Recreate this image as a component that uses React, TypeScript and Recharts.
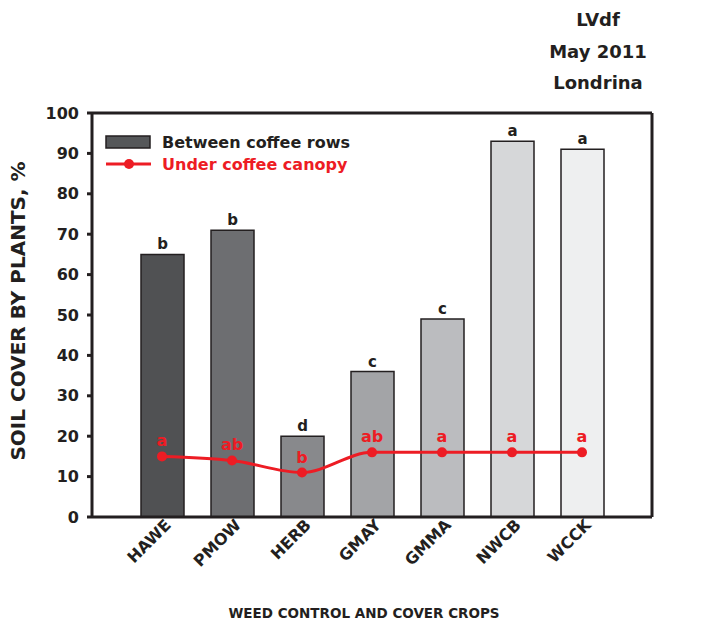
import React from "react";
import {
  ComposedChart,
  Bar,
  Line,
  XAxis,
  YAxis,
  Cell,
  LabelList,
  ReferenceLine,
} from "recharts";

const categories = ["HAWE", "PMOW", "HERB", "GMAY", "GMMA", "NWCB", "WCCK"];
const betweenRows = [65, 71, 20, 36, 49, 93, 91];
const underCanopy = [15, 14, 11, 16, 16, 16, 16];
const barLetters = ["b", "b", "d", "c", "c", "a", "a"];
const lineLetters = ["a", "ab", "b", "ab", "a", "a", "a"];
const barColors = ["#505153", "#6d6e71", "#88898c", "#a3a4a7", "#bbbcbf", "#d6d7d9", "#eeeff0"];
const yTicks = [0, 10, 20, 30, 40, 50, 60, 70, 80, 90, 100];

const data = categories.map((name, i) => ({
  name,
  between: betweenRows[i],
  under: underCanopy[i],
  barLetter: barLetters[i],
  lineLetter: lineLetters[i],
}));

const FONT = "'DejaVu Sans', sans-serif";
const INK = "#231f20";
const RED = "#ed1c24";

// rotated category labels, baseline end sits just right of the tick
const XTick = (props: any) => {
  const { x, y, payload } = props;
  const ax = x + 10;
  const ay = y + 1;
  return (
    <text
      x={ax}
      y={ay}
      transform={`rotate(-45, ${ax}, ${ay})`}
      textAnchor="end"
      fontFamily={FONT}
      fontWeight="bold"
      fontSize={16}
      fill={INK}
    >
      {payload.value}
    </text>
  );
};

const tickStyle = { fontFamily: FONT, fontWeight: "bold", fontSize: 16, fill: INK };

export default function App() {
  return (
    <div style={{ position: "absolute", left: 0, top: 0, width: 701, height: 626, background: "#fff" }}>
      <ComposedChart
        width={701}
        height={626}
        data={data}
        margin={{ top: 113, right: 0, bottom: 49, left: 32 }}
      >
        <XAxis
          dataKey="name"
          padding={{ left: 35, right: 35 }}
          tick={<XTick />}
          tickLine={false}
          axisLine={{ stroke: INK, strokeWidth: 3 }}
          height={60}
          interval={0}
        />
        <YAxis
          yAxisId="left"
          domain={[0, 100]}
          ticks={yTicks}
          width={60}
          tickSize={5}
          tickMargin={8}
          axisLine={{ stroke: INK, strokeWidth: 3 }}
          tickLine={{ stroke: INK, strokeWidth: 3 }}
          tick={tickStyle}
        />
        <YAxis
          yAxisId="right"
          orientation="right"
          domain={[0, 100]}
          ticks={yTicks}
          width={49}
          tickSize={5}
          tickMargin={7}
          axisLine={{ stroke: INK, strokeWidth: 3 }}
          tickLine={{ stroke: INK, strokeWidth: 3 }}
          tick={tickStyle}
        />
        <ReferenceLine yAxisId="left" y={100} stroke={INK} strokeWidth={3} />
        <Bar
          yAxisId="left"
          dataKey="between"
          barSize={43}
          stroke={INK}
          strokeWidth={1.5}
          isAnimationActive={false}
        >
          {data.map((d, i) => (
            <Cell key={d.name} fill={barColors[i]} />
          ))}
          <LabelList
            dataKey="barLetter"
            position="top"
            offset={5}
            style={{ fontFamily: FONT, fontWeight: "bold", fontSize: 15, fill: INK }}
          />
        </Bar>
        <Line
          yAxisId="left"
          type="monotone"
          dataKey="under"
          stroke={RED}
          strokeWidth={3}
          dot={{ r: 5, fill: RED, stroke: RED, strokeWidth: 0 }}
          isAnimationActive={false}
        >
          <LabelList
            dataKey="lineLetter"
            position="top"
            offset={10}
            style={{ fontFamily: FONT, fontWeight: "bold", fontSize: 16, fill: RED }}
          />
        </Line>
      </ComposedChart>

      {/* legend */}
      <div
        style={{
          position: "absolute",
          left: 104,
          top: 131,
          fontFamily: FONT,
          fontWeight: "bold",
          fontSize: 16,
        }}
      >
        <div style={{ display: "flex", alignItems: "center", height: 22 }}>
          <svg width={58} height={16}>
            <rect x={2} y={2} width={44} height={12} fill="#555759" stroke={INK} strokeWidth={1.5} />
          </svg>
          <span style={{ color: INK }}>Between coffee rows</span>
        </div>
        <div style={{ display: "flex", alignItems: "center", height: 22 }}>
          <svg width={58} height={16}>
            <line x1={2} y1={8} x2={47} y2={8} stroke={RED} strokeWidth={3} />
            <circle cx={25} cy={8} r={5} fill={RED} />
          </svg>
          <span style={{ color: RED }}>Under coffee canopy</span>
        </div>
      </div>

      <div
        style={{
          position: "absolute",
          left: 520,
          top: 4,
          width: 156,
          textAlign: "center",
          fontFamily: FONT,
          fontWeight: "bold",
          fontSize: 18,
          lineHeight: "31.5px",
          color: INK,
        }}
      >
        <div>LVdf</div>
        <div>May 2011</div>
        <div>Londrina</div>
      </div>

      <div
        style={{
          position: "absolute",
          left: 18,
          top: 311,
          transform: "translate(-50%, -50%) rotate(-90deg)",
          whiteSpace: "nowrap",
          fontFamily: FONT,
          fontWeight: "bold",
          fontSize: 20,
          color: INK,
        }}
      >
        SOIL COVER BY PLANTS, %
      </div>

      <div
        style={{
          position: "absolute",
          left: 364,
          top: 613,
          transform: "translate(-50%, -50%)",
          whiteSpace: "nowrap",
          fontFamily: FONT,
          fontWeight: "bold",
          fontSize: 13.5,
          color: INK,
        }}
      >
        WEED CONTROL AND COVER CROPS
      </div>
    </div>
  );
}
